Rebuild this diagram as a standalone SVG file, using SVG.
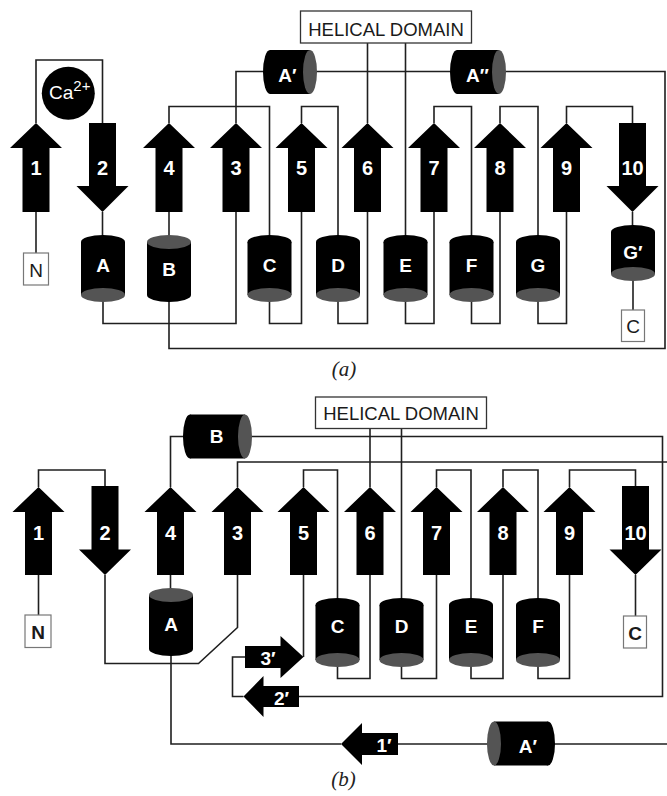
<svg xmlns="http://www.w3.org/2000/svg" width="667" height="796" viewBox="0 0 667 796">
<style>
.ln{fill:none;stroke:#1f1f1f;stroke-width:1.6}
.blk{fill:#000}
.gry{fill:#545454}
.lbl{font-family:"Liberation Sans",Arial,sans-serif;font-weight:bold;fill:#fff;text-anchor:middle}
.d{font-size:20px}
.h{font-size:19px}
.box{fill:#fff;stroke:#777;stroke-width:1.2}
.hbox{fill:#fff;stroke:#333;stroke-width:1.3}
.bt{font-family:"Liberation Sans",Arial,sans-serif;fill:#1a1a1a;text-anchor:middle;font-size:19px}
.ht{font-family:"Liberation Sans",Arial,sans-serif;fill:#1a1a1a;text-anchor:middle;font-size:18.5px}
.cap{font-family:"Liberation Serif","Times New Roman",serif;font-style:italic;font-size:21px;fill:#222;text-anchor:middle}
</style>
<rect width="667" height="796" fill="#fff"/>

<g id="connectors">
<g id="connectors-a">
<path class="ln" d="M36,253V212"/>
<path class="ln" d="M36,123V60H102.5V123"/>
<path class="ln" d="M102.5,212V236"/>
<path class="ln" d="M103,301V323.5H236V212"/>
<path class="ln" d="M236,123V71.5H264"/>
<path class="ln" d="M316,71.5H451"/>
<path class="ln" d="M505,71.5H665V348.5H169V300"/>
<path class="ln" d="M169,237V212"/>
<path class="ln" d="M169,123V106.5H269.5V236"/>
<path class="ln" d="M269.5,301V323.5H301.5V212"/>
<path class="ln" d="M301.5,123V106.5H338V236"/>
<path class="ln" d="M338,301V323.5H367.5V212"/>
<path class="ln" d="M367.5,123V43"/>
<path class="ln" d="M405.5,43V236"/>
<path class="ln" d="M405.5,301V323.5H434V212"/>
<path class="ln" d="M434,123V106.5H471.5V236"/>
<path class="ln" d="M471.5,301V323.5H500V212"/>
<path class="ln" d="M500,123V106.5H538V236"/>
<path class="ln" d="M538,301V323.5H566.5V212"/>
<path class="ln" d="M566.5,123V106.5H632.5V123"/>
<path class="ln" d="M632.5,212V226"/>
<path class="ln" d="M633,280V310"/>
</g>
<g id="connectors-b">
<path class="ln" d="M38.5,615V575"/>
<path class="ln" d="M38.5,487V470H105V486"/>
<path class="ln" d="M105,575V663.5H198.5L237.5,627.5V575"/>
<path class="ln" d="M237.5,487V462H667"/>
<path class="ln" d="M170.5,487V436.5H184"/>
<path class="ln" d="M251,436.5H662.5V696.5H299"/>
<path class="ln" d="M243.5,696.5H232.5V657H245"/>
<path class="ln" d="M303.5,575V657"/>
<path class="ln" d="M170.5,575V589"/>
<path class="ln" d="M171,655V744H341"/>
<path class="ln" d="M398,744H488"/>
<path class="ln" d="M554,744H667"/>
<path class="ln" d="M303.5,487V470H337.5V599"/>
<path class="ln" d="M337.5,666V678.5H370V575"/>
<path class="ln" d="M370,487V428.5"/>
<path class="ln" d="M401.5,428.5V599"/>
<path class="ln" d="M401.5,666V678.5H436.5V575"/>
<path class="ln" d="M436.5,487V470H471V599"/>
<path class="ln" d="M471,666V678.5H503V575"/>
<path class="ln" d="M503,487V470H538V599"/>
<path class="ln" d="M538,666V678.5H569.5V575"/>
<path class="ln" d="M569.5,487V470H635.5V486"/>
<path class="ln" d="M635.5,575V616"/>
</g>
</g>

<!-- Panel (a) -->
<g id="a-helical"><rect class="hbox" x="300.5" y="11" width="171" height="32"/><text class="ht" x="386" y="35.5">HELICAL DOMAIN</text></g>
<g id="a-ca"><circle class="blk" cx="68.3" cy="93.3" r="26.5"/><text x="49" y="98.5" font-family="Liberation Sans,Arial,sans-serif" font-size="19" fill="#fff">Ca<tspan font-size="15" dy="-8">2+</tspan></text></g>
<g id="a-N"><rect class="box" x="23.5" y="253" width="25" height="32"/><text class="bt" x="36" y="277">N</text></g>
<g id="a-C"><rect class="box" x="621.5" y="310" width="23" height="31.5"/><text class="bt" x="633" y="333">C</text></g>

<g id="a-s1"><polygon class="blk" points="36,123 62,148 49.5,148 49.5,212 22.5,212 22.5,148 10,148"/><text class="lbl d" x="36" y="175">1</text></g>
<g id="a-s2"><polygon class="blk" points="89,123 116,123 116,186 128.5,186 102.5,212 76.5,186 89,186"/><text class="lbl d" x="102.5" y="175">2</text></g>
<g id="a-s4"><polygon class="blk" points="169,123 195,148 182.5,148 182.5,212 155.5,212 155.5,148 143,148"/><text class="lbl d" x="169" y="175">4</text></g>
<g id="a-s3"><polygon class="blk" points="236,123 262,148 249.5,148 249.5,212 222.5,212 222.5,148 210,148"/><text class="lbl d" x="236" y="175">3</text></g>
<g id="a-s5"><polygon class="blk" points="301.5,123 327.5,148 315,148 315,212 288,212 288,148 275.5,148"/><text class="lbl d" x="301.5" y="175">5</text></g>
<g id="a-s6"><polygon class="blk" points="367.5,123 393.5,148 381,148 381,212 354,212 354,148 341.5,148"/><text class="lbl d" x="367.5" y="175">6</text></g>
<g id="a-s7"><polygon class="blk" points="434,123 460,148 447.5,148 447.5,212 420.5,212 420.5,148 408,148"/><text class="lbl d" x="434" y="175">7</text></g>
<g id="a-s8"><polygon class="blk" points="500,123 526,148 513.5,148 513.5,212 486.5,212 486.5,148 474,148"/><text class="lbl d" x="500" y="175">8</text></g>
<g id="a-s9"><polygon class="blk" points="566.5,123 592.5,148 580,148 580,212 553,212 553,148 540.5,148"/><text class="lbl d" x="566.5" y="175">9</text></g>
<g id="a-s10"><polygon class="blk" points="619,123 646,123 646,186 658.5,186 632.5,212 606.5,186 619,186"/><text class="lbl d" x="632.5" y="175">10</text></g>

<g id="a-hA"><rect class="blk" x="81" y="242" width="44" height="53"/><ellipse class="blk" cx="103" cy="242" rx="22" ry="7"/><ellipse class="gry" cx="103" cy="295" rx="22" ry="7"/><text class="lbl h" x="103" y="272">A</text></g>
<g id="a-hB"><rect class="blk" x="147" y="242" width="44" height="53"/><ellipse class="blk" cx="169" cy="295" rx="22" ry="7"/><ellipse class="gry" cx="169" cy="242" rx="22" ry="7"/><text class="lbl h" x="169" y="275.5">B</text></g>
<g id="a-hC"><rect class="blk" x="247.5" y="242" width="44" height="53"/><ellipse class="blk" cx="269.5" cy="242" rx="22" ry="7"/><ellipse class="gry" cx="269.5" cy="295" rx="22" ry="7"/><text class="lbl h" x="269.5" y="272">C</text></g>
<g id="a-hD"><rect class="blk" x="316" y="242" width="44" height="53"/><ellipse class="blk" cx="338" cy="242" rx="22" ry="7"/><ellipse class="gry" cx="338" cy="295" rx="22" ry="7"/><text class="lbl h" x="338" y="272">D</text></g>
<g id="a-hE"><rect class="blk" x="383.5" y="242" width="44" height="53"/><ellipse class="blk" cx="405.5" cy="242" rx="22" ry="7"/><ellipse class="gry" cx="405.5" cy="295" rx="22" ry="7"/><text class="lbl h" x="405.5" y="272">E</text></g>
<g id="a-hF"><rect class="blk" x="449.5" y="242" width="44" height="53"/><ellipse class="blk" cx="471.5" cy="242" rx="22" ry="7"/><ellipse class="gry" cx="471.5" cy="295" rx="22" ry="7"/><text class="lbl h" x="471.5" y="272">F</text></g>
<g id="a-hG"><rect class="blk" x="516" y="242" width="44" height="53"/><ellipse class="blk" cx="538" cy="242" rx="22" ry="7"/><ellipse class="gry" cx="538" cy="295" rx="22" ry="7"/><text class="lbl h" x="538" y="272">G</text></g>
<g id="a-hGp"><rect class="blk" x="611" y="232" width="44" height="42"/><ellipse class="blk" cx="633" cy="232" rx="22" ry="7"/><ellipse class="gry" cx="633" cy="274" rx="22" ry="7"/><text class="lbl h" x="633" y="258.5">G′</text></g>
<g id="a-hAp"><rect class="blk" x="270" y="50" width="40" height="44"/><ellipse class="blk" cx="270" cy="72" rx="7" ry="22"/><ellipse class="gry" cx="310" cy="72" rx="7" ry="22"/><text class="lbl h" x="287.5" y="82">A′</text></g>
<g id="a-hApp"><rect class="blk" x="457" y="50" width="42" height="44"/><ellipse class="blk" cx="457" cy="72" rx="7" ry="22"/><ellipse class="gry" cx="499" cy="72" rx="7" ry="22"/><text class="lbl h" x="477.5" y="82">A″</text></g>

<text id="cap-a" class="cap" x="344" y="376">(a)</text>

<!-- Panel (b) -->
<g id="b-helical"><rect class="hbox" x="315.5" y="397" width="171" height="31.5"/><text class="ht" x="401" y="420">HELICAL DOMAIN</text></g>
<g id="b-N"><rect class="box" x="25" y="615" width="26" height="32.5"/><text class="bt" x="38" y="639" font-weight="bold">N</text></g>
<g id="b-C"><rect class="box" x="623.5" y="616" width="23" height="32"/><text class="bt" x="635" y="640" font-weight="bold">C</text></g>

<g id="b-s1"><polygon class="blk" points="38.5,487 64.5,512 52,512 52,575 25,575 25,512 12.5,512"/><text class="lbl d" x="38.5" y="539.5">1</text></g>
<g id="b-s2"><polygon class="blk" points="91.5,486 118.5,486 118.5,549.5 131,549.5 105,575 79,549.5 91.5,549.5"/><text class="lbl d" x="105" y="539.5">2</text></g>
<g id="b-s4"><polygon class="blk" points="170.5,487 196.5,512 184,512 184,575 157,575 157,512 144.5,512"/><text class="lbl d" x="170.5" y="539.5">4</text></g>
<g id="b-s3"><polygon class="blk" points="237.5,487 263.5,512 251,512 251,575 224,575 224,512 211.5,512"/><text class="lbl d" x="237.5" y="539.5">3</text></g>
<g id="b-s5"><polygon class="blk" points="303.5,487 329.5,512 317,512 317,575 290,575 290,512 277.5,512"/><text class="lbl d" x="303.5" y="539.5">5</text></g>
<g id="b-s6"><polygon class="blk" points="370,487 396,512 383.5,512 383.5,575 356.5,575 356.5,512 344,512"/><text class="lbl d" x="370" y="539.5">6</text></g>
<g id="b-s7"><polygon class="blk" points="436.5,487 462.5,512 450,512 450,575 423,575 423,512 410.5,512"/><text class="lbl d" x="436.5" y="539.5">7</text></g>
<g id="b-s8"><polygon class="blk" points="503,487 529,512 516.5,512 516.5,575 489.5,575 489.5,512 477,512"/><text class="lbl d" x="503" y="539.5">8</text></g>
<g id="b-s9"><polygon class="blk" points="569.5,487 595.5,512 583,512 583,575 556,575 556,512 543.5,512"/><text class="lbl d" x="569.5" y="539.5">9</text></g>
<g id="b-s10"><polygon class="blk" points="622,486 649,486 649,549.5 661.5,549.5 635.5,575 609.5,549.5 622,549.5"/><text class="lbl d" x="635.5" y="539.5">10</text></g>

<g id="b-s1p"><polygon class="blk" points="341,744 362,723 362,733 398,733 398,755 362,755 362,765"/><text class="lbl h" x="384" y="752">1′</text></g>
<g id="b-s3p"><polygon class="blk" points="245,646 280.5,646 280.5,636 303.5,657 280.5,678 280.5,668 245,668"/><text class="lbl h" x="268" y="665">3′</text></g>
<g id="b-s2p"><polygon class="blk" points="243.5,696.5 263.5,676 263.5,686 299,686 299,707 263.5,707 263.5,717"/><text class="lbl h" x="281.5" y="704.5">2′</text></g>

<g id="b-hA"><rect class="blk" x="149" y="595" width="44" height="54"/><ellipse class="blk" cx="171" cy="649" rx="22" ry="7"/><ellipse class="gry" cx="171" cy="595" rx="22" ry="7"/><text class="lbl h" x="171" y="631">A</text></g>
<g id="b-hC"><rect class="blk" x="315.5" y="605" width="44" height="55"/><ellipse class="blk" cx="337.5" cy="605" rx="22" ry="7"/><ellipse class="gry" cx="337.5" cy="660" rx="22" ry="7"/><text class="lbl h" x="337.5" y="633">C</text></g>
<g id="b-hD"><rect class="blk" x="379.5" y="605" width="44" height="55"/><ellipse class="blk" cx="401.5" cy="605" rx="22" ry="7"/><ellipse class="gry" cx="401.5" cy="660" rx="22" ry="7"/><text class="lbl h" x="401.5" y="633">D</text></g>
<g id="b-hE"><rect class="blk" x="449" y="605" width="44" height="55"/><ellipse class="blk" cx="471" cy="605" rx="22" ry="7"/><ellipse class="gry" cx="471" cy="660" rx="22" ry="7"/><text class="lbl h" x="471" y="633">E</text></g>
<g id="b-hF"><rect class="blk" x="516" y="605" width="44" height="55"/><ellipse class="blk" cx="538" cy="605" rx="22" ry="7"/><ellipse class="gry" cx="538" cy="660" rx="22" ry="7"/><text class="lbl h" x="538" y="633">F</text></g>
<g id="b-hB"><rect class="blk" x="190" y="414.5" width="55" height="44"/><ellipse class="blk" cx="190" cy="436.5" rx="7" ry="22"/><ellipse class="gry" cx="245" cy="436.5" rx="7" ry="22"/><text class="lbl h" x="216.5" y="443">B</text></g>
<g id="b-hAp"><rect class="blk" x="494" y="721.5" width="54" height="44"/><ellipse class="blk" cx="548" cy="743.5" rx="7" ry="22"/><ellipse class="gry" cx="494" cy="743.5" rx="7" ry="22"/><text class="lbl h" x="528" y="752.5">A′</text></g>

<text id="cap-b" class="cap" x="343.5" y="786">(b)</text>
</svg>
